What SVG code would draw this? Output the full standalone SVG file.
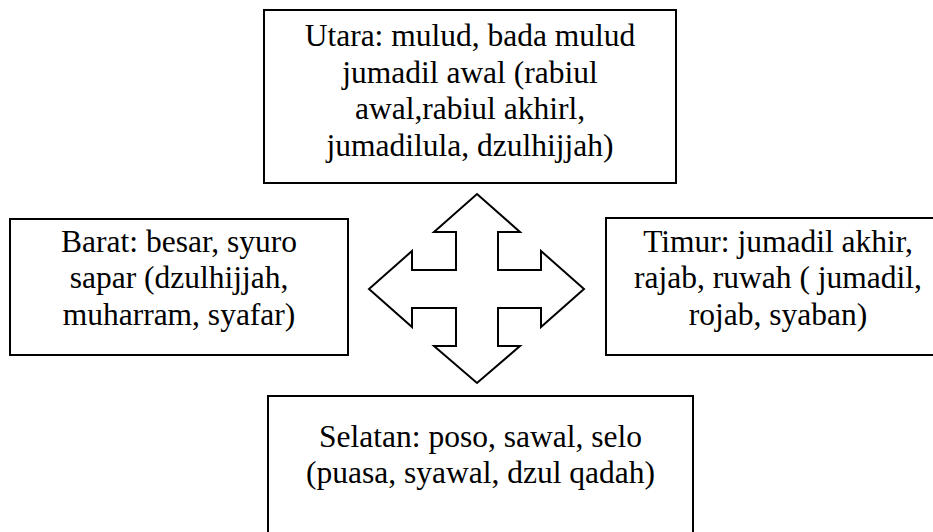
<svg xmlns="http://www.w3.org/2000/svg" width="933" height="532" viewBox="0 0 933 532">
<style>
.box{fill:#ffffff;stroke:#000000;stroke-width:2}
.t{font-family:"Liberation Serif","Times New Roman",serif;font-size:31.5px;fill:#000000;text-anchor:middle}
.cross{fill:#ffffff;stroke:#000000;stroke-width:2;stroke-linejoin:miter}
</style>
<rect x="0" y="0" width="933" height="532" fill="#ffffff"/>
<g id="connectors">
<polygon class="cross" points="477,194 520,232 498,232 498,270 541,270 541,251 584,289 541,327 541,308 498,308 498,346 520,346 477,383 434,346 456,346 456,308 412,308 412,327 369,289 412,251 412,270 456,270 456,232 434,232"/>
</g>
<g id="utara">
<rect class="box" x="264" y="10" width="412" height="173"/>
<text class="t" x="470" y="46">Utara: mulud, bada mulud</text>
<text class="t" x="470" y="82.5">jumadil awal (rabiul</text>
<text class="t" x="470" y="119">awal,rabiul akhirl,</text>
<text class="t" x="470" y="155.5">jumadilula, dzulhijjah)</text>
</g>
<g id="barat">
<rect class="box" x="10" y="219" width="338" height="136"/>
<text class="t" x="179" y="251.5">Barat: besar, syuro</text>
<text class="t" x="179" y="288">sapar (dzulhijjah,</text>
<text class="t" x="179" y="324.5">muharram, syafar)</text>
</g>
<g id="timur">
<rect class="box" x="606" y="218" width="344" height="137"/>
<text class="t" x="778" y="251.5">Timur: jumadil akhir,</text>
<text class="t" x="778" y="288">rajab, ruwah ( jumadil,</text>
<text class="t" x="778" y="324.5">rojab, syaban)</text>
</g>
<g id="selatan">
<rect class="box" x="268" y="396" width="425" height="150"/>
<text class="t" x="480.5" y="446.5">Selatan: poso, sawal, selo</text>
<text class="t" x="480.5" y="483">(puasa, syawal, dzul qadah)</text>
</g>
</svg>
